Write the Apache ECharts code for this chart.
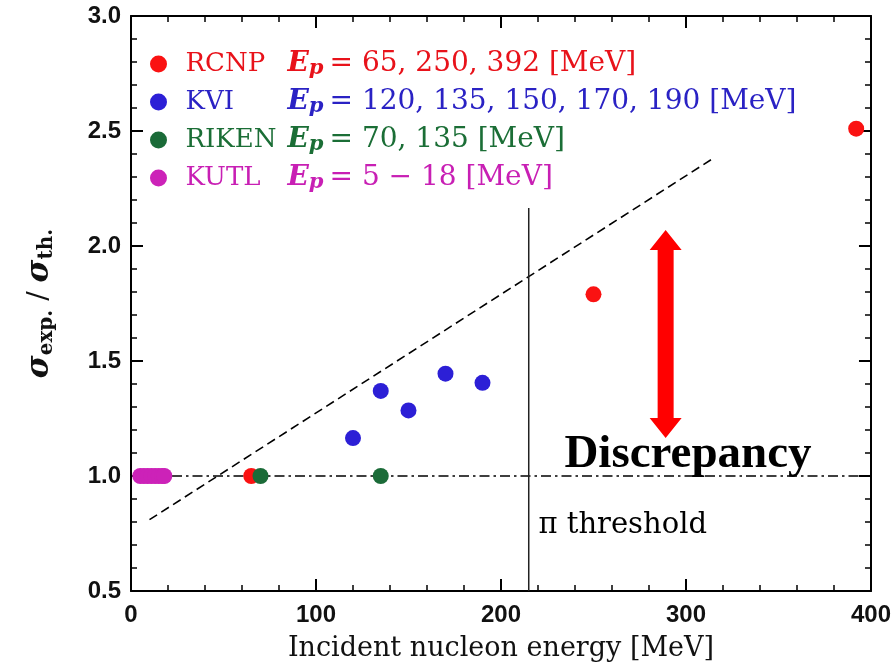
<!DOCTYPE html>
<html><head><meta charset="utf-8">
<script src="https://cdn.jsdelivr.net/npm/echarts@6/dist/echarts.min.js"></script>
<style>html,body{margin:0;padding:0;background:#fff}#c{width:894px;height:667px}</style>
</head><body><div id="c"></div>
<script>
// ---- data ----
const rcnpX = [65, 250, 392];
const rcnpY = [1.0, 1.79, 2.51];
const kviX = [120, 135, 150, 170, 190];
const kviY = [1.165, 1.37, 1.285, 1.445, 1.405];
const rikenX = [70, 135];
const rikenY = [1.0, 1.0];
const kutlX = [5, 7, 9, 11, 13, 15, 17, 18];
const kutlY = [1, 1, 1, 1, 1, 1, 1, 1];
const trendX = [10, 313.5];
const trendY = [0.81, 2.375];
const unityX = [0, 400];
const unityY = [1, 1];
const thresholdX = [215, 215];
const thresholdY = [0.5, 2.165];
const arrowX = [289];
const arrowLow = [1.165];
const arrowHigh = [2.07];
const groupNames = ['RCNP', 'KVI', 'RIKEN', 'KUTL'];
const energyTexts = ['= 65, 250, 392 [MeV]', '= 120, 135, 150, 170, 190 [MeV]', '= 70, 135 [MeV]', '= 5 \u2212 18 [MeV]'];
const xTickValues = [0, 100, 200, 300, 400];
const yTickValues = [0.5, 1.0, 1.5, 2.0, 2.5, 3.0];
const annotTexts = ['Discrepancy', '\u03c0 threshold'];

// ---- styles ----
const markColors = ['#fa1212', '#2c1fd6', '#1b6b38', '#cc22b8'];
const textColors = ['#e8121a', '#2a22c4', '#1b6e36', '#c81fb4'];
const zip = (xs, ys) => xs.map((x, i) => [x, ys[i]]);

const rich = {};
textColors.forEach((c, i) => {
  rich['n' + i] = { color: c, fontFamily: 'DejaVu Serif', fontSize: 26, width: 102, lineHeight: 30 };
  rich['e' + i] = { color: c, fontFamily: 'DejaVu Serif', fontSize: 28, fontStyle: 'italic', fontWeight: 'bold', lineHeight: 30 };
  rich['p' + i] = { color: c, fontFamily: 'DejaVu Serif', fontSize: 21, fontStyle: 'italic', fontWeight: 'bold', verticalAlign: 'bottom', lineHeight: 10 };
  rich['t' + i] = { color: c, fontFamily: 'DejaVu Serif', fontSize: 28, lineHeight: 30, padding: [0, 0, 0, 6] };
});

const chart = echarts.init(document.getElementById('c'), null, { renderer: 'canvas' });

const tickLabel = { fontFamily: 'Liberation Sans', fontWeight: 'bold', fontSize: 24, color: '#111' };
const axisLineStyle = { color: '#000', width: 2 };

const scatterSeries = [[rcnpX, rcnpY], [kviX, kviY], [rikenX, rikenY], [kutlX, kutlY]].map((d, i) => ({
  name: groupNames[i],
  type: 'scatter',
  symbol: 'circle',
  symbolSize: 16,
  itemStyle: { color: markColors[i], opacity: 1 },
  data: zip(d[0], d[1]),
  z: 5
}));

const option = {
  animation: false,
  backgroundColor: '#fff',
  grid: { left: 131, right: 19, top: 16, bottom: 76 },
  legend: {
    data: groupNames,
    orient: 'vertical',
    left: 150,
    top: 50,
    padding: 0,
    itemGap: 9,
    itemWidth: 44,
    itemHeight: 17,
    icon: 'circle',
    selectedMode: false,
    textStyle: { rich: rich },
    formatter: function (name) {
      const i = groupNames.indexOf(name);
      return '{n' + i + '|' + name + '}{e' + i + '|E}{p' + i + '|p}{t' + i + '|' + energyTexts[i] + '}';
    }
  },
  xAxis: [{
    type: 'value', min: 0, max: 400, interval: 100, position: 'bottom',
    name: 'Incident nucleon energy [MeV]', nameLocation: 'middle', nameGap: 44,
    nameTextStyle: { fontFamily: 'DejaVu Serif', fontSize: 27, color: '#111' },
    axisLine: { show: true, onZero: false, lineStyle: axisLineStyle },
    axisTick: { show: true, inside: true, length: 12, lineStyle: { color: '#000', width: 2 } },
    minorTick: { show: true, splitNumber: 5, length: 6, lineStyle: { color: '#000', width: 1.5 } },
    axisLabel: Object.assign({ margin: 12, formatter: v => xTickValues.includes(v) ? String(v) : '' }, tickLabel),
    splitLine: { show: false }
  }, {
    type: 'value', min: 0, max: 400, interval: 100, position: 'top',
    axisLine: { show: true, onZero: false, lineStyle: axisLineStyle },
    axisTick: { show: true, inside: true, length: 12, lineStyle: { color: '#000', width: 2 } },
    minorTick: { show: true, splitNumber: 5, length: 6, lineStyle: { color: '#000', width: 1.5 } },
    axisLabel: { show: false },
    splitLine: { show: false }
  }],
  yAxis: [{
    type: 'value', min: 0.5, max: 3.0, interval: 0.5, position: 'left',
    name: '{s|\u03c3}{sub|exp.}{sl| / }{s|\u03c3}{sub|th.}',
    nameLocation: 'middle', nameGap: 74, nameRotate: 90,
    nameTextStyle: {
      rich: {
        s: { fontFamily: 'DejaVu Serif', fontSize: 31, fontStyle: 'italic', fontWeight: 'bold', color: '#111', lineHeight: 34 },
        sub: { fontFamily: 'DejaVu Serif', fontSize: 20, fontWeight: 'bold', color: '#111', verticalAlign: 'bottom', lineHeight: 10 },
        sl: { fontFamily: 'DejaVu Serif', fontSize: 28, color: '#111', lineHeight: 34 }
      }
    },
    axisLine: { show: true, onZero: false, lineStyle: axisLineStyle },
    axisTick: { show: true, inside: true, length: 12, lineStyle: { color: '#000', width: 2 } },
    minorTick: { show: true, splitNumber: 5, length: 6, lineStyle: { color: '#000', width: 1.5 } },
    axisLabel: Object.assign({ margin: 10, formatter: v => v.toFixed(1) }, tickLabel),
    splitLine: { show: false }
  }, {
    type: 'value', min: 0.5, max: 3.0, interval: 0.5, position: 'right',
    axisLine: { show: true, onZero: false, lineStyle: axisLineStyle },
    axisTick: { show: true, inside: true, length: 12, lineStyle: { color: '#000', width: 2 } },
    minorTick: { show: true, splitNumber: 5, length: 6, lineStyle: { color: '#000', width: 1.5 } },
    axisLabel: { show: false },
    splitLine: { show: false }
  }],
  series: [
    {
      name: 'unity', type: 'line', data: zip(unityX, unityY), symbol: 'none', z: 2,
      lineStyle: { color: '#000', width: 1.6, type: [10, 4, 2.5, 4] }
    },
    {
      name: 'trend', type: 'line', data: zip(trendX, trendY), symbol: 'none', z: 2,
      lineStyle: { color: '#000', width: 1.6, type: [9, 5] }
    },
    {
      name: 'threshold', type: 'line', data: zip(thresholdX, thresholdY), symbol: 'none', z: 2,
      lineStyle: { color: '#222', width: 1.5 }
    },
    {
      name: 'arrow', type: 'custom', z: 3,
      data: arrowX.map((x, i) => [x, arrowLow[i], arrowHigh[i]]),
      renderItem: function (params, api) {
        const top = api.coord([api.value(0), api.value(2)]);
        const bot = api.coord([api.value(0), api.value(1)]);
        const sw = 8, hw = 16, hl = 20;
        const cx = top[0];
        return {
          type: 'polygon',
          shape: { points: [
            [cx, top[1]], [cx + hw, top[1] + hl], [cx + sw, top[1] + hl], [cx + sw, bot[1] - hl],
            [cx + hw, bot[1] - hl], [cx, bot[1]], [cx - hw, bot[1] - hl], [cx - sw, bot[1] - hl],
            [cx - sw, top[1] + hl], [cx - hw, top[1] + hl]
          ] },
          style: { fill: '#ff0000' }
        };
      }
    },
    {
      name: 'annotDisc', type: 'scatter', symbolSize: 1, itemStyle: { color: 'rgba(0,0,0,0)', opacity: 1 }, z: 6,
      data: [[234, 1.091]],
      label: { show: true, position: 'right', distance: 0, formatter: annotTexts[0], opacity: 1,
        fontFamily: 'Liberation Serif', fontWeight: 'bold', fontSize: 47, color: '#000' }
    },
    {
      name: 'annotPi', type: 'scatter', symbolSize: 1, itemStyle: { color: 'rgba(0,0,0,0)', opacity: 1 }, z: 6,
      data: [[220, 0.785]],
      label: { show: true, position: 'right', distance: 0, formatter: annotTexts[1], opacity: 1,
        fontFamily: 'DejaVu Serif', fontSize: 29, color: '#000' }
    }
  ].concat(scatterSeries)
};
chart.setOption(option);
</script>
</body></html>
